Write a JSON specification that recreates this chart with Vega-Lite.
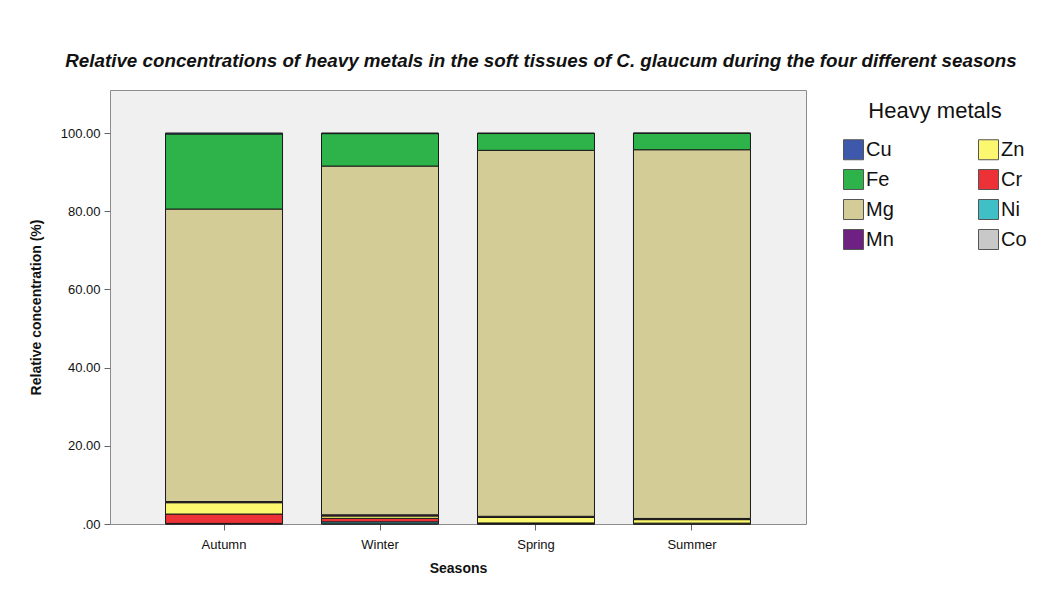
{
  "$schema": "https://vega.github.io/schema/vega-lite/v6.json",
  "width": 696,
  "height": 434,
  "autosize": {"type": "none"},
  "padding": {"left": 110, "top": 90, "right": 256, "bottom": 70},
  "background": "white",
  "config": {
    "font": "Liberation Sans",
    "view": {"fill": "#F0F0F0", "stroke": "#8C8C8C", "strokeWidth": 1}
  },
  "title": {
    "text": "Relative concentrations of heavy metals in the soft tissues of C. glaucum during the four different seasons",
    "font": "Liberation Sans",
    "fontSize": 18.8,
    "fontWeight": "bold",
    "fontStyle": "italic",
    "color": "#111",
    "anchor": "middle",
    "dx": 83,
    "offset": 19
  },
  "data": {
    "values": [
      {"season": "Autumn", "metal": "Co", "value": 0.05},
      {"season": "Autumn", "metal": "Ni", "value": 0.1},
      {"season": "Autumn", "metal": "Cr", "value": 2.4},
      {"season": "Autumn", "metal": "Zn", "value": 2.9},
      {"season": "Autumn", "metal": "Mn", "value": 0.3},
      {"season": "Autumn", "metal": "Mg", "value": 74.8},
      {"season": "Autumn", "metal": "Fe", "value": 19.2},
      {"season": "Autumn", "metal": "Cu", "value": 0.25},
      {"season": "Winter", "metal": "Co", "value": 0.05},
      {"season": "Winter", "metal": "Ni", "value": 0.5},
      {"season": "Winter", "metal": "Cr", "value": 0.9},
      {"season": "Winter", "metal": "Zn", "value": 0.6},
      {"season": "Winter", "metal": "Mn", "value": 0.3},
      {"season": "Winter", "metal": "Mg", "value": 89.2},
      {"season": "Winter", "metal": "Fe", "value": 8.3},
      {"season": "Winter", "metal": "Cu", "value": 0.15},
      {"season": "Spring", "metal": "Co", "value": 0.02},
      {"season": "Spring", "metal": "Ni", "value": 0.1},
      {"season": "Spring", "metal": "Cr", "value": 0.15},
      {"season": "Spring", "metal": "Zn", "value": 1.4},
      {"season": "Spring", "metal": "Mn", "value": 0.3},
      {"season": "Spring", "metal": "Mg", "value": 93.6},
      {"season": "Spring", "metal": "Fe", "value": 4.3},
      {"season": "Spring", "metal": "Cu", "value": 0.13},
      {"season": "Summer", "metal": "Co", "value": 0.02},
      {"season": "Summer", "metal": "Ni", "value": 0.1},
      {"season": "Summer", "metal": "Cr", "value": 0.1},
      {"season": "Summer", "metal": "Zn", "value": 0.9},
      {"season": "Summer", "metal": "Mn", "value": 0.3},
      {"season": "Summer", "metal": "Mg", "value": 94.3},
      {"season": "Summer", "metal": "Fe", "value": 4.2},
      {"season": "Summer", "metal": "Cu", "value": 0.08}
    ]
  },
  "transform": [
    {"calculate": "indexof(['Co','Ni','Cr','Zn','Mn','Mg','Fe','Cu'], datum.metal)", "as": "stackOrder"}
  ],
  "mark": {"type": "bar", "stroke": "#1a1a1a", "strokeWidth": 1},
  "encoding": {
    "x": {
      "field": "season",
      "type": "nominal",
      "sort": ["Autumn", "Winter", "Spring", "Summer"],
      "scale": {"paddingInner": 0.25, "paddingOuter": 0.356},
      "axis": {
        "title": "Seasons",
        "titleFont": "Liberation Sans",
        "titleFontSize": 14,
        "titleFontWeight": "bold",
        "titleColor": "#111",
        "titlePadding": 10,
        "labelAngle": 0,
        "labelFontSize": 13,
        "labelColor": "#111",
        "labelPadding": 8,
        "tickSize": 6,
        "tickColor": "#666",
        "domain": false
      }
    },
    "y": {
      "field": "value",
      "type": "quantitative",
      "stack": "zero",
      "scale": {"domain": [0, 111], "nice": false, "zero": true},
      "axis": {
        "title": "Relative concentration (%)",
        "titleFontSize": 14,
        "titleFontWeight": "bold",
        "titleColor": "#111",
        "titlePadding": 17,
        "values": [0, 20, 40, 60, 80, 100],
        "labelExpr": "datum.value == 0 ? '.00' : format(datum.value, '.2f')",
        "labelFontSize": 13,
        "labelColor": "#111",
        "labelPadding": 4,
        "tickSize": 6,
        "tickColor": "#666",
        "grid": false,
        "domain": false
      }
    },
    "color": {
      "field": "metal",
      "type": "nominal",
      "scale": {
        "domain": ["Cu", "Fe", "Mg", "Mn", "Zn", "Cr", "Ni", "Co"],
        "range": ["#3E58AC", "#2DB34A", "#D4CC97", "#6F2083", "#FBF870", "#ED3237", "#3FBFC6", "#C8C8C8"]
      },
      "legend": {
        "title": "Heavy metals",
        "orient": "none",
        "legendX": 733,
        "legendY": 11,
        "columns": 2,
        "columnPadding": 82,
        "rowPadding": 5,
        "titleFontSize": 22,
        "titleFontWeight": "normal",
        "titleColor": "#111",
        "titleAnchor": "middle",
        "titlePadding": 16,
        "symbolType": "square",
        "symbolSize": 400,
        "symbolStrokeColor": "#555",
        "symbolStrokeWidth": 1,
        "symbolOpacity": 1,
        "labelFontSize": 20,
        "labelColor": "#111",
        "labelOffset": 2
      }
    },
    "order": {"field": "stackOrder", "type": "quantitative", "sort": "ascending"}
  }
}
